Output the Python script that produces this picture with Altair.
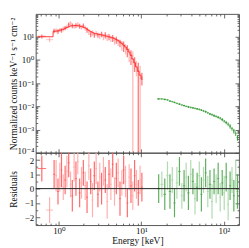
import altair as alt
import pandas as pd

# ---------------- data ----------------
red_edges = [0.55, 0.70, 0.85, 0.90, 0.95, 1.00, 1.05, 1.10, 1.16, 1.22, 1.28, 1.35, 1.42,
             1.49, 1.57, 1.65, 1.74, 1.83, 1.93, 2.03, 2.14, 2.25, 2.37, 2.49, 2.62, 2.76,
             2.90, 3.05, 3.21, 3.38, 3.56, 3.75, 3.95, 4.16, 4.38, 4.61, 4.85, 5.10, 5.37,
             5.65, 5.95, 6.26, 6.59, 6.94, 7.30, 7.68, 8.08, 8.50, 8.95, 9.42, 9.91, 10.4]
red_flux = [10.5, 7.5, 18, 19, 17, 20, 19, 22, 24, 27, 33, 38, 30, 28, 31, 34, 29, 26, 30, 24,
            20, 16, 13, 15, 12, 14, 12, 11, 13, 10, 12, 9.5, 10, 8.5, 9, 7, 7.5, 6, 5.5, 4.5,
            4.2, 3.2, 2.8, 2.0, 1.6, 1.1, 0.8, 0.55, 0.35, 0.25, 0.18]
red_err = [2.0, 1.5, 4, 4, 4, 4, 4, 5, 5, 6, 8, 9, 7, 6, 7, 8, 7, 6, 7, 6,
           5, 4, 3.5, 4, 3, 3.5, 3, 3, 3.5, 3, 3.5, 3, 3, 2.5, 3, 2.5, 2.5, 2, 2, 2,
           2, 1.5, 1.5, 1.2, 1.0, 1.2, 0.5, 0.35, 0.4, 0.3, 0.1]
red_model = [10, 10, 17, 17.5, 18, 19, 20, 21, 23, 25, 27, 29, 30, 30.5, 30.5, 30, 29, 27.5,
             26, 24, 21.5, 19, 17, 15.5, 14, 13.5, 13, 12.5, 12, 11.5, 11, 10.5, 10, 9.5, 9,
             8.3, 7.6, 6.8, 6, 5.2, 4.4, 3.6, 2.9, 2.2, 1.6, 1.1, 0.75, 0.5, 0.32, 0.22, 0.15]
red_res = [1.4, -1.5, 1.0, 0.9, -0.2, 0.8, 1.3, 0.1, 0.6, 1.2, 1.8, 0.3, -0.5, 1.5, 0.7, 1.9,
           -0.3, 0.4, 1.1, 0.2, -0.6, 1.6, 0.5, -0.8, 0.9, 1.4, -0.4, 0.8, 0.0, 1.2, 0.6, -0.9,
           1.0, 0.3, 1.7, -0.2, 0.7, 1.1, -0.7, 0.4, 1.3, 0.5, -1.0, 0.8, 0.2, -0.5, 0.9, 0.3,
           -0.3, 0.6, 0.1]
red_res_err = [0.9, 0.9, 1.0, 1.1, 0.9, 1.0, 1.2, 0.9, 1.0, 1.1, 1.0, 0.9, 1.1, 1.0, 1.2, 0.9,
               1.0, 1.1, 0.9, 1.0, 1.1, 1.0, 0.9, 1.2, 1.0, 1.1, 0.9, 1.0, 1.1, 1.0, 0.9, 1.2,
               1.0, 1.1, 0.9, 1.0, 1.1, 1.0, 1.2, 0.9, 1.0, 1.1, 1.0, 0.9, 1.2, 1.0, 1.1, 1.0,
               0.9, 1.0, 1.0]

green_edges = [15.5, 17, 18.5, 20, 21.5, 23, 24.5, 26, 28, 30, 32, 34, 36, 38.5, 41, 43.5, 46,
               49, 52, 55, 58.5, 62, 66, 70, 74, 78.5, 83, 88, 93, 98.5, 104, 110, 116, 122.5,
               129, 136, 143, 150]
green_flux = [0.021, 0.021, 0.020, 0.019, 0.017, 0.016, 0.0148, 0.0135, 0.0125, 0.0115,
              0.0108, 0.0100, 0.0095, 0.0090, 0.0086, 0.0082, 0.0078, 0.0074, 0.0069, 0.0064,
              0.0059, 0.0053, 0.0047, 0.0044, 0.0040, 0.0037, 0.0034, 0.0031, 0.0027, 0.0023,
              0.0020, 0.0017, 0.0014, 0.0011, 0.00088, 0.00068, 0.00045]
green_err = [0.0015, 0.0015, 0.0015, 0.0014, 0.0013, 0.0012, 0.0011, 0.001, 0.001, 0.0009,
             0.0009, 0.0008, 0.0008, 0.0008, 0.0007, 0.0007, 0.0007, 0.0007, 0.0006, 0.0006,
             0.0006, 0.0005, 0.0005, 0.0005, 0.0005, 0.0004, 0.0004, 0.0004, 0.0004, 0.0003,
             0.0003, 0.0003, 0.0003, 0.0002, 0.0002, 0.00015, 0.00012]
green_res = [0.0, 0.3, -0.4, 0.9, -0.2, 0.6, -1.0, 0.4, 1.2, -0.5, 0.2, 0.8, -0.3, 1.0, 0.5,
             -0.7, 0.1, 0.9, -0.4, 0.6, 1.1, -0.2, 0.3, -0.9, 0.5, 0.0, 0.7, -0.6, 0.4, -0.3,
             0.8, -1.1, 0.2, 0.6, -0.5, 1.0, -0.2]
green_res_err = [1.0, 0.9, 1.1, 1.0, 1.2, 0.9, 1.0, 1.1, 1.0, 0.9, 1.1, 1.0, 1.2, 1.0, 0.9,
                 1.1, 1.0, 1.0, 1.2, 0.9, 1.0, 1.1, 1.0, 1.2, 0.9, 1.0, 1.1, 1.0, 0.9, 1.2,
                 1.0, 1.1, 1.0, 0.9, 1.1, 1.0, 1.2]

x_major = [1, 10, 100]
x_labels = ["10⁰", "10¹", "10²"]
y_major = [0.0001, 0.001, 0.01, 0.1, 1, 10]
y_labels = ["10⁻⁴", "10⁻³", "10⁻²", "10⁻¹", "10⁰", "10¹"]
r_major = [-2, -1, 0, 1, 2]
r_labels = ["−2", "−1", "0", "1", "2"]
r_minor = [-2.5, -1.5, -0.5, 0.5, 1.5]

# ---------------- styling / layout ----------------
SERIF = "Liberation Serif, DejaVu Serif, serif"
X_DOMAIN = [0.524, 153]
Y_DOMAIN = [0.0001, 96]
R_DOMAIN = [-2.55, 2.5]
W, H_TOP, H_RES = 205, 140, 73
RED_DARK, RED_LIGHT, RED_LINE = "#ff5a5a", "#ffa8a8", "#ff2a2a"
GRN_DARK, GRN_LIGHT = "#4ea64e", "#a8d6a8"


def log_minors(lo_exp, hi_exp, vmin, vmax):
    out = []
    for d in range(lo_exp, hi_exp + 1):
        for m in range(2, 10):
            v = round(m * 10.0 ** d, 8)
            if vmin < v < vmax:
                out.append(v)
    return out


x_minor = log_minors(-1, 2, X_DOMAIN[0], X_DOMAIN[1])
y_minor = log_minors(-4, 1, Y_DOMAIN[0], Y_DOMAIN[1])


def label_expr(vals, labs):
    e = "''"
    for v, l in zip(reversed(vals), reversed(labs)):
        e = f"datum.value === {v!r} ? '{l}' : ({e})"
    return e


def tick_expr(majors):
    arr = "[" + ",".join(repr(v) for v in majors) + "]"
    return f"indexof({arr}, datum.value) >= 0 ? -4 : -2"


def make_axis(orient, majors, minors, labels=None, title=None, extent=0, pad=6,
              label_offset=None):
    kw = dict(orient=orient, values=sorted(majors + minors), domain=False, grid=False,
              ticks=True, tickSize=alt.ExprRef(expr=tick_expr(majors)),
              tickColor="#444444", tickWidth=0.8, labelOverlap=False,
              minExtent=extent, maxExtent=extent)
    if labels:
        kw.update(labels=True, labelExpr=label_expr(majors, labels), labelPadding=pad)
        if label_offset:
            kw["labelOffset"] = alt.ExprRef(expr=label_offset)
    else:
        kw.update(labels=False)
    kw["title"] = title
    return alt.Axis(**kw)


def bin_table(edges, vals, errs, floor=None):
    rows = []
    for i in range(len(vals)):
        lo, hi = edges[i], edges[i + 1]
        low = vals[i] - errs[i]
        if floor is not None:
            low = max(low, floor)
        rows.append(dict(elo=lo, ehi=hi, e=(lo * hi) ** 0.5, v=vals[i], vlo=low,
                         vhi=vals[i] + errs[i], grp="a" if i % 2 == 0 else "b"))
    return pd.DataFrame(rows)


red_top = bin_table(red_edges, red_flux, red_err, floor=1e-6)
grn_top = bin_table(green_edges, green_flux, green_err, floor=1e-6)
red_bot = bin_table(red_edges, red_res, red_res_err)
grn_bot = bin_table(green_edges, green_res, green_res_err)
step_df = pd.DataFrame({"e": red_edges, "m": red_model + [red_model[-1]]})
zero_df = pd.DataFrame({"r": [0]})

xs_top = alt.Scale(type="log", domain=X_DOMAIN)
ys_top = alt.Scale(type="log", domain=Y_DOMAIN)
xs_bot = alt.Scale(type="log", domain=X_DOMAIN)
ys_bot = alt.Scale(domain=R_DOMAIN)


def err_layers(df, xs, ys, c_dark, c_light, width=1.2, op=1.0):
    layers = []
    for g, c in (("b", c_light), ("a", c_dark)):
        base = alt.Chart(df).transform_filter(alt.datum.grp == g)
        layers.append(base.mark_rule(color=c, strokeWidth=width, opacity=op, clip=True).encode(
            x=alt.X("e:Q", scale=xs, axis=None),
            y=alt.Y("vlo:Q", scale=ys, axis=None), y2="vhi:Q"))
        layers.append(base.mark_rule(color=c, strokeWidth=0.9, opacity=op, clip=True).encode(
            x=alt.X("elo:Q", scale=xs, axis=None), x2="ehi:Q",
            y=alt.Y("v:Q", scale=ys, axis=None)))
    return layers


# ---------------- top panel ----------------
step = alt.Chart(step_df).mark_line(interpolate="step-after", color=RED_LINE,
                                    strokeWidth=0.9, clip=True).encode(
    x=alt.X("e:Q", scale=xs_top,
            axis=make_axis("bottom", x_major, x_minor)),
    y=alt.Y("m:Q", scale=ys_top,
            axis=make_axis("left", y_major, y_minor, y_labels,
                           "Normalized counts keV⁻¹ s⁻¹ cm⁻²", extent=17, pad=6,
                           label_offset="datum.value === 0.0001 ? -2.5 : 0")))
top_frame = alt.Chart(zero_df).mark_point(opacity=0).encode(
    x=alt.X("r:Q", scale=xs_top, axis=make_axis("top", x_major, x_minor)),
    y=alt.Y("r:Q", scale=ys_top, axis=make_axis("right", y_major, y_minor)))

top = alt.layer(
    *err_layers(red_top, xs_top, ys_top, RED_DARK, RED_LIGHT, width=1.3, op=0.8),
    step,
    *err_layers(grn_top, xs_top, ys_top, "#2f962f", "#4aa84a", width=1.0),
    top_frame,
).resolve_axis(x="independent", y="independent").properties(width=W, height=H_TOP)

# ---------------- residual panel ----------------
zero = alt.Chart(zero_df).mark_rule(color="#222222", strokeWidth=1).encode(
    y=alt.Y("r:Q", scale=ys_bot,
            axis=make_axis("left", r_major, r_minor, r_labels, "Residuals", extent=17, pad=6,
                           label_offset="datum.value === 2 ? 1 : 0")),
)
zero_x = alt.Chart(red_bot).mark_point(opacity=0).encode(
    x=alt.X("e:Q", scale=xs_bot,
            axis=make_axis("bottom", x_major, x_minor, x_labels, "Energy [keV]",
                           extent=10, pad=5)),
    y=alt.Y("v:Q", scale=ys_bot, axis=None))
bot_frame = alt.Chart(zero_df).mark_point(opacity=0).encode(
    x=alt.X("r:Q", scale=xs_bot, axis=make_axis("top", x_major, x_minor)),
    y=alt.Y("r:Q", scale=ys_bot, axis=make_axis("right", r_major, r_minor)))

res = alt.layer(
    zero_x,
    *err_layers(red_bot, xs_bot, ys_bot, RED_DARK, RED_LIGHT, width=1.2, op=0.9),
    *err_layers(grn_bot, xs_bot, ys_bot, GRN_DARK, GRN_LIGHT, width=1.2, op=0.9),
    zero,
    bot_frame,
).resolve_axis(x="independent", y="independent").properties(width=W, height=H_RES)

chart = alt.vconcat(top, res, spacing=0, bounds="flush").properties(
    padding={"left": 0, "top": 1, "right": 1, "bottom": 0}
).configure_view(stroke="#444444", strokeWidth=0.9).configure_axis(
    labelFont=SERIF, titleFont=SERIF, labelFontSize=9, titleFontSize=9.5,
    titleFontWeight="normal", labelColor="#111111", titleColor="#111111", titlePadding=0,
)

chart.save("out.html", embed_options={"renderer": "svg", "actions": False})
